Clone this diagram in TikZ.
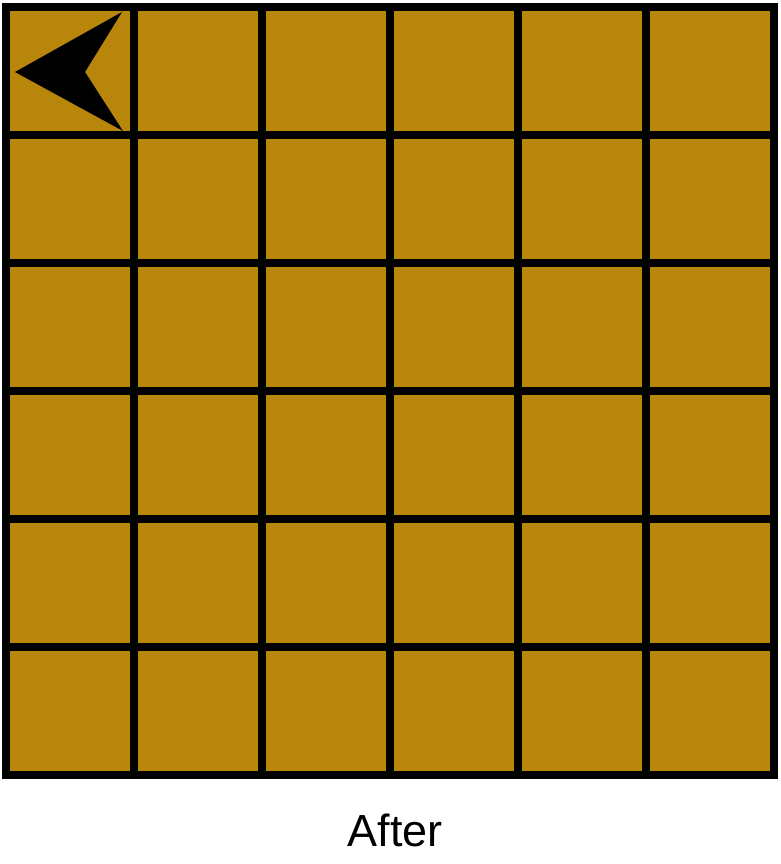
\documentclass[tikz,border=0pt]{standalone}
\usepackage{fontspec}
\setmainfont{Liberation Sans}
\definecolor{gold}{RGB}{184,134,11}
\begin{document}
\begin{tikzpicture}[x=1pt,y=-1pt,
  gridline/.style={line width=8pt,draw=black},
  pointer/.style={fill=black}]
\useasboundingbox (0,0) rectangle (780,864);
\fill[gold] (6,7) rectangle (774,775);
\foreach \i in {0,...,6}{
  \draw[gridline] ({6+128*\i},3) -- ({6+128*\i},779);
  \draw[gridline] (2,{7+128*\i}) -- (778,{7+128*\i});
}
\fill[pointer] (15,72) -- (122,12) -- (85,72) -- (123,131) -- cycle;
\node[anchor=base,font=\fontsize{45}{54}\selectfont,inner sep=0pt] (label) at (395,846) {After};
\end{tikzpicture}
\end{document}
